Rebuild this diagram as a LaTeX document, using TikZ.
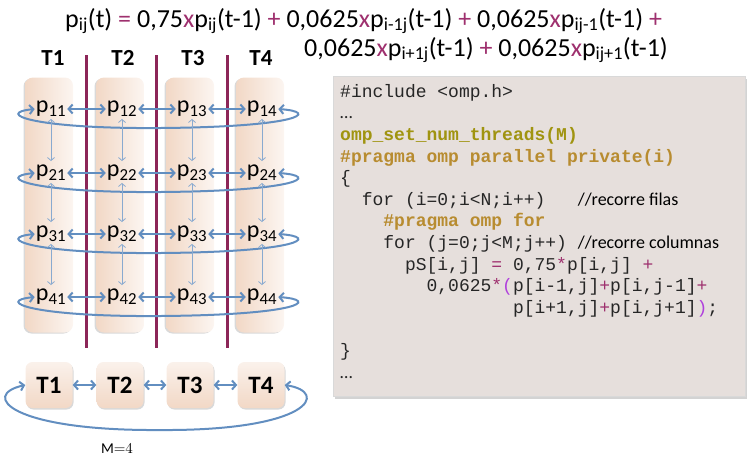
\documentclass[tikz,border=0pt]{standalone}
\usepackage{fontspec}
\setmainfont{Carlito}
\setmonofont{Liberation Mono}
\usetikzlibrary{arrows.meta, shadows, positioning}

\definecolor{peach}{RGB}{242,216,198}
\definecolor{arrowblue}{RGB}{98,142,192}
\definecolor{seppurple}{RGB}{140,38,88}
\definecolor{oppurple}{RGB}{158,48,110}
\definecolor{parviolet}{RGB}{176,64,220}
\definecolor{ompolive}{RGB}{160,148,16}
\definecolor{ompgold}{RGB}{184,140,48}
\definecolor{codebg}{RGB}{230,223,220}

\newcommand{\codeind}[1]{\hspace*{#1\dimexpr0.6em\relax}}
\newcommand{\op}[1]{{\color{oppurple}#1}}

\begin{document}
\begin{tikzpicture}[x=1pt, y=-1pt,
  colbox/.style={rounded corners=8pt, minimum width=48pt, minimum height=255pt, left color=peach, right color=peach!25,
    drop shadow={opacity=0.3, shadow xshift=-1.5pt, shadow yshift=-1pt}},
  thread/.style={rounded corners=7pt, minimum width=47pt, minimum height=46pt, top color=peach!35, bottom color=peach,
    drop shadow={opacity=0.3, shadow xshift=1pt, shadow yshift=-1.5pt}, font=\bfseries\fontsize{25}{29}\selectfont},
  hdr/.style={font=\bfseries\fontsize{23}{27}\selectfont},
  cell/.style={font=\fontsize{24}{28}\selectfont, inner sep=1pt},
  link/.style={draw=arrowblue, line width=2pt, {Straight Barb[length=4pt,width=9pt]}-{Straight Barb[length=4pt,width=9pt]}},
  vlink/.style={draw=arrowblue!75, line width=0.8pt, {Straight Barb[length=3pt,width=7pt]}-{Straight Barb[length=3pt,width=7pt]},
    shorten >=3pt, shorten <=1pt},
  sep/.style={draw=seppurple, line width=3pt},
  formula/.style={font=\fontsize{26}{30}\selectfont, inner sep=0pt},
  codebox/.style={fill=codebg, draw=black!15, minimum width=412pt, minimum height=320pt,
    drop shadow={opacity=0.35, shadow xshift=2pt, shadow yshift=-2.5pt}},
  codetext/.style={font=\ttfamily\fontsize{18}{21.6}\selectfont, align=left, inner sep=0pt, text=black!85}
]
\useasboundingbox (0,0) rectangle (751,459);

% formula
\node[formula, anchor=base west] (eq1) at (65,27)
  {p\textsubscript{ij}(t) \op{=} 0,75\op{x}p\textsubscript{ij}(t-1) \op{+} 0,0625\op{x}p\textsubscript{i-1j}(t-1) \op{+} 0,0625\op{x}p\textsubscript{ij-1}(t-1) \op{+}};
\node[formula, anchor=base east] (eq2) at (668,56)
  {0,0625\op{x}p\textsubscript{i+1j}(t-1) \op{+} 0,0625\op{x}p\textsubscript{ij+1}(t-1)};

% columns per thread
\node[colbox] (col1) at (49,205) {};
\node[colbox] (col2) at (120,205) {};
\node[colbox] (col3) at (190,205) {};
\node[colbox] (col4) at (260,205) {};

\node[hdr] (th1) at (53,58) {T1};
\node[hdr] (th2) at (123,58) {T2};
\node[hdr] (th3) at (193,58) {T3};
\node[hdr] (th4) at (261,58) {T4};

% separators
\draw[sep] (86,55) -- (86,348);
\draw[sep] (156,55) -- (156,348);
\draw[sep] (227,55) -- (227,348);

% matrix elements
\node[cell] (p11) at (51,109) {p\textsubscript{11}};
\node[cell] (p12) at (122,109) {p\textsubscript{12}};
\node[cell] (p13) at (192,109) {p\textsubscript{13}};
\node[cell] (p14) at (262,109) {p\textsubscript{14}};
\node[cell] (p21) at (51,173) {p\textsubscript{21}};
\node[cell] (p22) at (122,173) {p\textsubscript{22}};
\node[cell] (p23) at (192,173) {p\textsubscript{23}};
\node[cell] (p24) at (262,173) {p\textsubscript{24}};
\node[cell] (p31) at (51,234) {p\textsubscript{31}};
\node[cell] (p32) at (122,234) {p\textsubscript{32}};
\node[cell] (p33) at (192,234) {p\textsubscript{33}};
\node[cell] (p34) at (262,234) {p\textsubscript{34}};
\node[cell] (p41) at (51,297) {p\textsubscript{41}};
\node[cell] (p42) at (122,297) {p\textsubscript{42}};
\node[cell] (p43) at (192,297) {p\textsubscript{43}};
\node[cell] (p44) at (262,297) {p\textsubscript{44}};

% neighbours in a row
\draw[link] (p11) -- (p12);
\draw[link] (p12) -- (p13);
\draw[link] (p13) -- (p14);
\draw[link] (p21) -- (p22);
\draw[link] (p22) -- (p23);
\draw[link] (p23) -- (p24);
\draw[link] (p31) -- (p32);
\draw[link] (p32) -- (p33);
\draw[link] (p33) -- (p34);
\draw[link] (p41) -- (p42);
\draw[link] (p42) -- (p43);
\draw[link] (p43) -- (p44);

% wrap-around of each row
\draw[link] (p11.west) .. controls (-5,113) and (30,129) .. (160,128) .. controls (300,127) and (320,112) .. (p14.east);
\draw[link] (p21.west) .. controls (-5,177) and (30,193) .. (160,192) .. controls (300,191) and (320,176) .. (p24.east);
\draw[link] (p31.west) .. controls (-5,238) and (30,254) .. (160,253) .. controls (300,252) and (320,237) .. (p34.east);
\draw[link] (p41.west) .. controls (-5,301) and (30,317) .. (160,316) .. controls (300,315) and (320,300) .. (p44.east);

% neighbours in a column
\draw[vlink] (p11) -- (p21);
\draw[vlink] (p21) -- (p31);
\draw[vlink] (p31) -- (p41);
\draw[vlink] (p12) -- (p22);
\draw[vlink] (p22) -- (p32);
\draw[vlink] (p32) -- (p42);
\draw[vlink] (p13) -- (p23);
\draw[vlink] (p23) -- (p33);
\draw[vlink] (p33) -- (p43);
\draw[vlink] (p14) -- (p24);
\draw[vlink] (p24) -- (p34);
\draw[vlink] (p34) -- (p44);

% threads
\node[thread] (tb1) at (49,385) {T1};
\node[thread] (tb2) at (120,385) {T2};
\node[thread] (tb3) at (190,385) {T3};
\node[thread] (tb4) at (261,385) {T4};
\draw[link] (tb1) -- (tb2);
\draw[link] (tb2) -- (tb3);
\draw[link] (tb3) -- (tb4);
\draw[link] (tb1.west) .. controls (-20,395) and (10,431) .. (160,430) .. controls (310,431) and (330,392) .. (tb4.east);

\node (mval) at (117,449) {\scalebox{1.5}{$\mathrm{M}{=}4$}};

% code
\node[codebox] (codebg) at (539,236) {};
\node[codetext, anchor=north west] (src) at (340,84) {%
\#include <omp.h>\\
{\rmfamily …}\\
{\color{ompolive}\bfseries omp\_set\_num\_threads(M)}\\
{\color{ompgold}\bfseries \#pragma omp parallel private(i)}\\
\{\\
\codeind{2}for (i=0;i<N;i++)\codeind{3}{\rmfamily\color{black}//recorre filas}\\
\codeind{4}{\color{ompgold}\bfseries \#pragma omp for}\\
\codeind{4}for (j=0;j<M;j++)\codeind{1}{\rmfamily\color{black}//recorre columnas}\\
\codeind{6}pS[i,j] \op{=} 0,75\op{*}p[i,j] \op{+}\\
\codeind{8}0,0625\op{*}{\color{parviolet}(}p[i-1,j]\op{+}p[i,j-1]\op{+}\\
\codeind{16}p[i+1,j]\op{+}p[i,j+1]{\color{parviolet})};\\
\mbox{}\\
\}\\
{\rmfamily …}};
\end{tikzpicture}
\end{document}
